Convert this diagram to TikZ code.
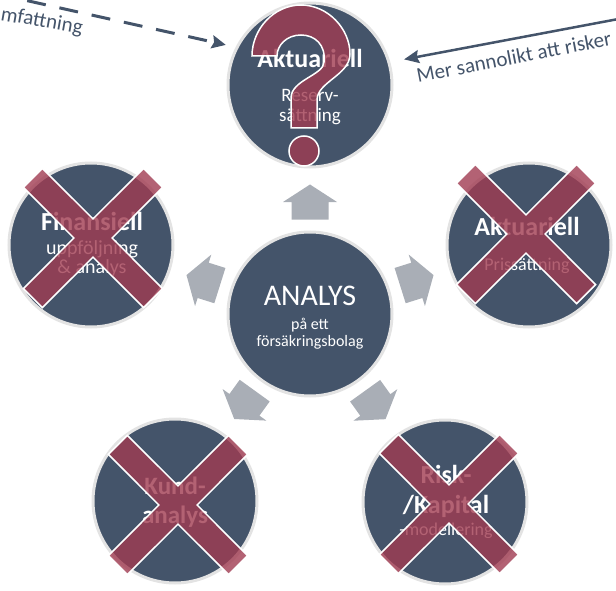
\documentclass[tikz,border=0pt]{standalone}
\usepackage{fontspec}
\setmainfont{Carlito}
\usetikzlibrary{arrows.meta,calc}
\definecolor{slate}{HTML}{44546A}
\definecolor{ringgray}{HTML}{E3E3E3}
\definecolor{xred}{HTML}{A03B51}
\definecolor{chev}{HTML}{A9AEB6}
\newcommand\chevshape[2]{%
  \coordinate (#1tail) at ($(#1)!-17.5pt!(#2)$);
  \fill[chev] ($(#1)!17.5pt!(#2)$) -- ($(#1)!27pt!90:(#2)$) -- ($(#1)!18.5pt!90:(#2)$)
    -- ($(#1tail)!18.5pt!90:(#2)$) -- ($(#1tail)!18.5pt!-90:(#2)$)
    -- ($(#1)!18.5pt!-90:(#2)$) -- ($(#1)!27pt!-90:(#2)$) -- cycle;}
\begin{document}
\begin{tikzpicture}[x=1pt,y=-1pt,
  circ/.style={circle, fill=slate, draw=ringgray, line width=3pt, minimum size=164pt, inner sep=0pt},
  ttl/.style={font=\fontsize{26}{30}\selectfont\bfseries, text=white, anchor=base, inner sep=0pt},
  subt/.style={font=\fontsize{19}{22}\selectfont, text=white, anchor=base, inner sep=0pt},
  lab/.style={font=\fontsize{21}{25}\selectfont, text=slate, anchor=base west, inner sep=0pt},
  crossmark/.style={fill=xred, fill opacity=.8, draw=white, line width=1.5pt, line join=miter},
  xmark/.pic={
    \filldraw[crossmark] (19.1,0) -- (69.6,50.6) -- (50.6,69.6) -- (0,19.1) -- (-50.6,69.6)
      -- (-69.6,50.6) -- (-19.1,0) -- (-69.6,-50.6) -- (-50.6,-69.6) -- (0,-19.1)
      -- (50.6,-69.6) -- (69.6,-50.6) -- cycle;
  }]
\useasboundingbox (0,0) rectangle (616,591);
\clip (0,0) rectangle (616,591);

% circles
\node[circ] (top) at (310,85) {};
\node[circ] (lft) at (91,245) {};
\node[circ] (rgt) at (529,245) {};
\node[circ] (cen) at (310,314) {};
\node[circ] (bl) at (175,501) {};
\node[circ] (br) at (445,502) {};

% chevrons
\coordinate (a1) at ($(cen)!112pt!(top)$);
\coordinate (a2) at ($(cen)!112pt!(lft)$);
\coordinate (a3) at ($(cen)!112pt!(rgt)$);
\coordinate (a4) at ($(cen)!112pt!(bl)$);
\coordinate (a5) at ($(cen)!112pt!(br)$);
\chevshape{a1}{top}
\chevshape{a2}{lft}
\chevshape{a3}{rgt}
\chevshape{a4}{bl}
\chevshape{a5}{br}

% texts
\node[ttl] (t1) at (310,68) {Aktuariell};
\node[subt] (t2) at (310,102) {Reserv-};
\node[subt] (t3) at (310,122) {sättning};

\node[ttl] (l1) at (92,230) {Finansiell};
\node[subt, font=\fontsize{20}{24}\selectfont] (l2) at (92,254) {uppföljning};
\node[subt, font=\fontsize{20}{24}\selectfont] (l3) at (92,273) {\& analys};

\node[ttl] (r1) at (527,235) {Aktuariell};
\node[subt, font=\fontsize{18}{22}\selectfont] (r2) at (527,270) {Prissättning};

\node[subt, font=\fontsize{30}{36}\selectfont] (c1) at (310,305) {ANALYS};
\node[subt, font=\fontsize{16}{19}\selectfont] (c2) at (310,329) {på ett};
\node[subt, font=\fontsize{16}{19}\selectfont] (c3) at (310,346) {försäkringsbolag};

\node[ttl, font=\fontsize{25}{29}\selectfont\bfseries] (b1) at (175,494) {Kund-};
\node[ttl, font=\fontsize{25}{29}\selectfont\bfseries] (b2) at (175,523) {analys};

\node[ttl] (d1) at (446,483) {Risk-};
\node[ttl] (d2) at (446,513) {/Kapital};
\node[subt, font=\fontsize{18}{22}\selectfont] (d3) at (446,535) {-modellering};

% crosses
\pic at (93,238) {xmark};
\pic at (526,234) {xmark};
\pic at (178,505) {xmark};
\pic at (449,504) {xmark};

% question mark
\filldraw[crossmark] (252,56) .. controls (252,29) and (274,5) .. (301,5)
  .. controls (328,5) and (350,29) .. (350,54)
  .. controls (350,75) and (317,82) .. (317,100)
  -- (317,128) -- (291,128) -- (291,98)
  .. controls (291,80) and (324,75) .. (324,62)
  .. controls (326,45) and (315,35) .. (301,35)
  .. controls (287,35) and (277,45) .. (277,56) -- cycle;
\filldraw[crossmark] (304,151) circle[radius=15];

% side labels and arrows
\node[lab, rotate=-10] (lt1) at (0,20) {mfattning};
\node[lab, rotate=11] (lt2) at (418,83) {Mer sannolikt att risker};
\coordinate (dstart) at (-5,-6.5);
\coordinate (sstart) at (620,18.7);
\draw[slate, line width=3pt, dash pattern=on 19pt off 14pt, shorten >=10pt,
  -{Stealth[length=14pt,width=13pt,inset=2pt]}] (dstart) -- (top.153);
\draw[slate, line width=2.5pt, shorten >=14pt,
  -{Stealth[length=15pt,width=13pt,inset=2pt]}] (sstart) -- (top.16);
\end{tikzpicture}
\end{document}
